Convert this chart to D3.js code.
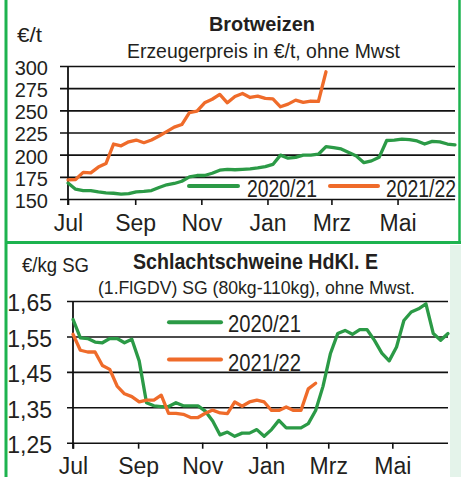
<!doctype html>
<html>
<head>
<meta charset="utf-8">
<title>Brotweizen / Schlachtschweine</title>
<script src="https://cdn.jsdelivr.net/npm/d3@7/dist/d3.min.js"></script>
<style>
  body { margin: 0; background: #fff; }
  svg { display: block; }
  text { fill: #231f20; }
</style>
</head>
<body>
<script>
// weekly values, starting first week of July
var monthLabels = ["Jul", "Sep", "Nov", "Jan", "Mrz", "Mai"];
var seriesNames = ["2020/21", "2021/22"];

var wheat2021 = [168,161,159.5,159.5,158,157,156.5,155.5,156,158,158.5,159.5,163,166,167.5,170,175,176.5,176.5,179,
  182.5,183.5,183,183.5,184,185,186.5,189,199.5,196,197,199.5,199.5,200.5,209,208,206.5,202.5,198.5,191,
  193,197,216,216.5,217.5,217,215.5,212,215,214.5,212,211];
var wheat2122 = [171.5,172,180,179.5,186,190,212,210,214.5,216.5,213.5,216.5,221,226,231,234,247.5,249,258.5,262.5,
  268,258.5,265.5,269,264.5,266,263.5,263,254,257,261.5,259,260.5,260,293.5];
var wheatTicks = [150, 175, 200, 225, 250, 275, 300];

var pigs2021 = [1.598,1.546,1.544,1.534,1.532,1.544,1.544,1.532,1.542,1.481,1.363,1.354,1.352,1.352,1.363,1.354,1.354,1.354,1.339,1.311,
  1.272,1.28,1.268,1.277,1.277,1.287,1.268,1.287,1.313,1.292,1.292,1.292,1.304,1.341,1.409,1.501,1.558,1.567,1.556,1.569,
  1.569,1.539,1.503,1.481,1.52,1.595,1.619,1.628,1.642,1.558,1.539,1.558];
var pigs2122 = [1.556,1.511,1.506,1.506,1.468,1.457,1.41,1.388,1.38,1.365,1.37,1.37,1.384,1.333,1.333,1.33,1.321,1.321,1.333,1.342,
  1.334,1.332,1.365,1.353,1.365,1.37,1.365,1.341,1.341,1.351,1.341,1.341,1.402,1.418];
var pigTicks = [1.25, 1.35, 1.45, 1.55, 1.65];

var green = "#2b9a46", orange = "#ef6b2a", frame = "#1db34f";
var narrow = "'Liberation Sans Narrow','Arial Narrow','Liberation Sans',sans-serif";
var regular = "'Liberation Sans',Arial,sans-serif";

var W = 461, H = 477;
var svg = d3.select("body").append("svg").attr("width", W).attr("height", H);

var start = new Date(2021, 6, 1);
var end = d3.timeDay.offset(start, 357);
function weekDate(i) { return d3.timeDay.offset(start, 7 * i); }
var monthTicks = d3.timeMonth.every(2).range(start, end);

// frame
svg.append("rect").attr("x", 450).attr("y", 245).attr("width", 11).attr("height", 232).attr("fill", "#e4f3ea");
svg.append("line").attr("x1", 6).attr("x2", 6).attr("y1", 0).attr("y2", H)
  .attr("stroke", frame).attr("stroke-width", 3);
svg.append("line").attr("x1", 459.5).attr("x2", 459.5).attr("y1", 0).attr("y2", 242)
  .attr("stroke", frame).attr("stroke-width", 2.5);
svg.append("line").attr("x1", 5).attr("x2", W).attr("y1", 242.5).attr("y2", 242.5)
  .attr("stroke", frame).attr("stroke-width", 3);

function panel(o) {
  var g = svg.append("g");
  var x = d3.scaleTime().domain([start, end]).range([o.x0, o.x1]);
  var y = d3.scaleLinear().domain(o.yDomain).range([o.yBottom, o.yTop]);

  // grid + y labels
  var ya = g.append("g").attr("transform", "translate(" + o.gridX + ",0)")
    .call(d3.axisLeft(y).tickValues(o.yTicks).tickSize(-(o.x1 - o.gridX)).tickPadding(o.labPad).tickFormat(o.fmt));
  ya.select(".domain").remove();
  ya.selectAll(".tick line").attr("stroke", "#111").attr("stroke-width", 1.6);
  ya.selectAll("text").attr("font-family", o.yFont).attr("font-size", o.yFs)
    .attr("dy", o.yDy).attr("fill", "#231f20");

  // x axis ticks + labels
  var xa = g.append("g").attr("transform", "translate(0," + o.yBottom + ")")
    .call(d3.axisBottom(x).tickValues(monthTicks).tickSize(6).tickSizeOuter(0)
      .tickFormat(function (d, i) { return monthLabels[i]; }));
  xa.select(".domain").remove();
  xa.selectAll(".tick line").attr("stroke", "#111").attr("stroke-width", 1.6);
  xa.selectAll("text").attr("font-family", narrow).attr("font-size", 23)
    .attr("y", o.xLabY).attr("dy", 0).attr("fill", "#231f20");

  // vertical axis
  g.append("line").attr("x1", o.x0).attr("x2", o.x0).attr("y1", o.yTop).attr("y2", o.yBottom + 6)
    .attr("stroke", "#111").attr("stroke-width", 1.8);

  var line = d3.line().x(function (d, i) { return x(weekDate(i)); }).y(function (d) { return y(d); })
    .curve(d3.curveLinear);
  [[o.a, green], [o.b, orange]].forEach(function (s) {
    g.append("path").datum(s[0]).attr("d", line).attr("fill", "none")
      .attr("stroke", s[1]).attr("stroke-width", 3.3).attr("stroke-linejoin", "round").attr("stroke-linecap", "round");
  });

  // legend
  o.legend.forEach(function (l, i) {
    g.append("line").attr("x1", l.lx0).attr("x2", l.lx1).attr("y1", l.ly).attr("y2", l.ly)
      .attr("stroke", i ? orange : green).attr("stroke-width", 4).attr("stroke-linecap", "round");
    g.append("text").attr("x", l.tx).attr("y", l.ty).text(seriesNames[i])
      .attr("font-family", narrow).attr("font-size", l.fs).attr("textLength", l.tw).attr("lengthAdjust", "spacingAndGlyphs");
  });

  // titles
  o.texts.forEach(function (t) {
    g.append("text").attr("x", t.x).attr("y", t.y).text(t.s)
      .attr("text-anchor", t.anchor || "start")
      .attr("font-family", narrow).attr("font-size", t.fs).attr("font-weight", t.bold ? "bold" : "normal")
      .attr("textLength", t.w).attr("lengthAdjust", "spacingAndGlyphs");
  });
}

panel({
  x0: 68, x1: 455, gridX: 60, yTop: 66, yBottom: 199,
  yDomain: [150, 300], yTicks: wheatTicks, fmt: d3.format("d"),
  yFont: regular, yFs: 20, yDy: "0.42em", labPad: 12, xLabY: 32,
  a: wheat2021, b: wheat2122,
  legend: [
    { lx0: 189, lx1: 238, ly: 186, tx: 247, ty: 197, fs: 23, tw: 70 },
    { lx0: 330, lx1: 378, ly: 186, tx: 386, ty: 197, fs: 23, tw: 70 }
  ],
  texts: [
    { s: "Brotweizen", x: 262, y: 31, fs: 21, bold: true, w: 106, anchor: "middle" },
    { s: "Erzeugerpreis in €/t, ohne Mwst", x: 263.5, y: 58, fs: 21, w: 273, anchor: "middle" },
    { s: "€/t", x: 17, y: 42, fs: 21, w: 25 }
  ]
});

panel({
  x0: 73, x1: 448, gridX: 67, yTop: 301, yBottom: 442.7,
  yDomain: [1.25, 1.65], yTicks: pigTicks, fmt: function (d) { return d3.format(".2f")(d).replace(".", ","); },
  yFont: narrow, yFs: 23, yDy: "0.43em", labPad: 15, xLabY: 31,
  a: pigs2021, b: pigs2122,
  legend: [
    { lx0: 169, lx1: 221, ly: 322.3, tx: 228, ty: 331.5, fs: 24, tw: 73 },
    { lx0: 169, lx1: 221, ly: 359.5, tx: 228, ty: 371, fs: 24, tw: 73 }
  ],
  texts: [
    { s: "Schlachtschweine HdKl. E", x: 255.5, y: 269, fs: 22, bold: true, w: 245, anchor: "middle" },
    { s: "(1.FlGDV) SG (80kg-110kg), ohne Mwst.", x: 256.5, y: 294, fs: 19, w: 317, anchor: "middle" },
    { s: "€/kg SG", x: 22, y: 272, fs: 21, w: 67 }
  ]
});
</script>
</body>
</html>
